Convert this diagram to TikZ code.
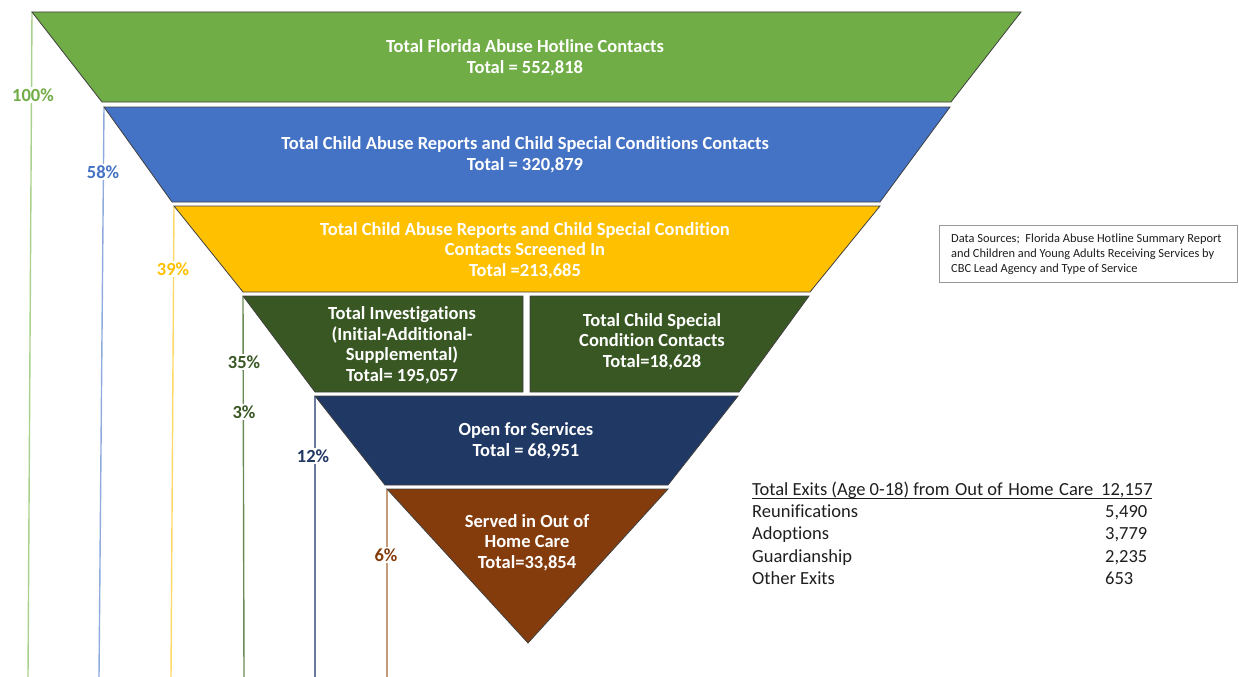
\documentclass[tikz,border=0pt]{standalone}
\usepackage{fontspec}
\setmainfont{Carlito}[Ligatures=NoCommon]
\definecolor{cgreen}{HTML}{70AD47}
\definecolor{cblue}{HTML}{4472C4}
\definecolor{cyellow}{HTML}{FFC000}
\definecolor{cdkgreen}{HTML}{385723}
\definecolor{cnavy}{HTML}{203864}
\definecolor{cbrown}{HTML}{843C0C}
\definecolor{lgreen}{HTML}{A9D18E}
\definecolor{lblue}{HTML}{8FAADC}
\definecolor{lyellow}{HTML}{FFD966}
\definecolor{ldkgreen}{HTML}{6A8A55}
\definecolor{lnavy}{HTML}{6A7A9A}
\definecolor{lbrown}{HTML}{C49A78}
\definecolor{txt}{HTML}{1E1E1E}
\tikzset{
  band/.style={draw=black!75, line width=0.8pt},
  bandtext/.style={text=white, align=center, inner sep=0pt,
    font=\bfseries\fontsize{18.5}{20.5}\selectfont},
  pct/.style={font=\bfseries\fontsize{18.5}{20}\selectfont, fill=white, inner sep=2pt},
  guide/.style={line width=1.4pt},
  tabtext/.style={text=txt, anchor=base west, inner sep=0pt,
    font=\fontsize{18.5}{20}\selectfont},
}
\begin{document}
\begin{tikzpicture}[x=1pt,y=-1pt]
\useasboundingbox (0,0) rectangle (1239,677);
% corners
\coordinate (g1) at (32,12);
\coordinate (b1) at (104,107);
\coordinate (y1) at (174,206);
\coordinate (d1) at (243,296);
\coordinate (n1) at (315,396);
\coordinate (r1) at (387,489);
\coordinate (g0) at (28,677);
\coordinate (b0) at (99,677);
\coordinate (y0) at (171,677);
\coordinate (d0) at (244,677);
\coordinate (n0) at (315,677);
\coordinate (r0) at (387,677);
% guide lines
\draw[guide, lgreen] (g1) -- (g0);
\draw[guide, lblue] (b1) -- (b0);
\draw[guide, lyellow] (y1) -- (y0);
\draw[guide, ldkgreen] (d1) -- (d0);
\draw[guide, lnavy] (n1) -- (n0);
\draw[guide, lbrown] (r1) -- (r0);
% bands
\fill[band, fill=cgreen] (g1) -- (1021,12) -- (951,102) -- (102,102) -- cycle;
\fill[band, fill=cblue] (b1) -- (950,107) -- (880,202) -- (172,202) -- cycle;
\fill[band, fill=cyellow] (y1) -- (880,206) -- (810,292) -- (243,292) -- cycle;
\fill[band, fill=cdkgreen] (d1) -- (523,296) -- (523,392) -- (315,392) -- cycle;
\fill[band, fill=cdkgreen] (530,296) -- (809,296) -- (739,392) -- (530,392) -- cycle;
\fill[band, fill=cnavy] (n1) -- (738,396) -- (668,485) -- (385,485) -- cycle;
\fill[band, fill=cbrown] (r1) -- (668,489) -- (528,643) -- cycle;
% band texts
\node[bandtext] (t1) at (525,58) {Total Florida Abuse Hotline Contacts\\Total = 552,818};
\node[bandtext] (t2) at (525,155) {Total Child Abuse Reports and Child Special Conditions Contacts\\Total = 320,879};
\node[bandtext] (t3) at (525,250.3) {Total Child Abuse Reports and Child Special Condition\\Contacts Screened In\\Total =213,685};
\node[bandtext] (t4) at (402,345.3) {Total Investigations\\(Initial-Additional-\\Supplemental)\\Total= 195,057};
\node[bandtext] (t5) at (652,341.7) {Total Child Special\\Condition Contacts\\Total=18,628};
\node[bandtext] (t6) at (526,441) {Open for Services\\Total = 68,951};
\node[bandtext] (t7) at (527,542.7) {Served in Out of\\Home Care\\Total=33,854};
% percent labels
\node[pct, text=cgreen] (p1) at (33,95) {100\%};
\node[pct, text=cblue] (p2) at (103,172) {58\%};
\node[pct, text=cyellow] (p3) at (173,269) {39\%};
\node[pct, text=cdkgreen] (p4) at (244,362) {35\%};
\node[pct, text=cdkgreen] (p5) at (244,412) {3\%};
\node[pct, text=cnavy] (p6) at (313,456) {12\%};
\node[pct, text=cbrown] (p7) at (386,555) {6\%};
% data sources
\node[draw=black!40, line width=0.8pt, minimum width=298pt, minimum height=57pt,
  inner sep=0pt] (ds) at (1088,253.5) {};
\node[text=txt, anchor=west, align=left, inner sep=0pt,
  font=\fontsize{12.4}{15}\selectfont] (dst) at (951,254.5)
  {Data Sources;\ \ Florida Abuse Hotline Summary Report\\
   and Children and Young Adults Receiving Services by\\
   CBC Lead Agency and Type of Service};
% exits table
\node[tabtext] (h1) at (752,495) {Total Exits (Age 0-18) from\hspace{5.5pt}Out of\hspace{5.5pt}Home\hspace{5.5pt}Care};
\node[tabtext] (h2) at (1101,495) {12,157};
\coordinate (ul1) at (752,498);
\coordinate (ul2) at (1152,498);
\draw[txt, line width=1pt] (ul1) -- (ul2);
\node[tabtext] (r1a) at (752,517) {Reunifications};
\node[tabtext] (r1b) at (1105,517) {5,490};
\node[tabtext] (r2a) at (752,539) {Adoptions};
\node[tabtext] (r2b) at (1105,539) {3,779};
\node[tabtext] (r3a) at (752,562) {Guardianship};
\node[tabtext] (r3b) at (1105,562) {2,235};
\node[tabtext] (r4a) at (752,584) {Other Exits};
\node[tabtext] (r4b) at (1105,584) {653};
\end{tikzpicture}
\end{document}
